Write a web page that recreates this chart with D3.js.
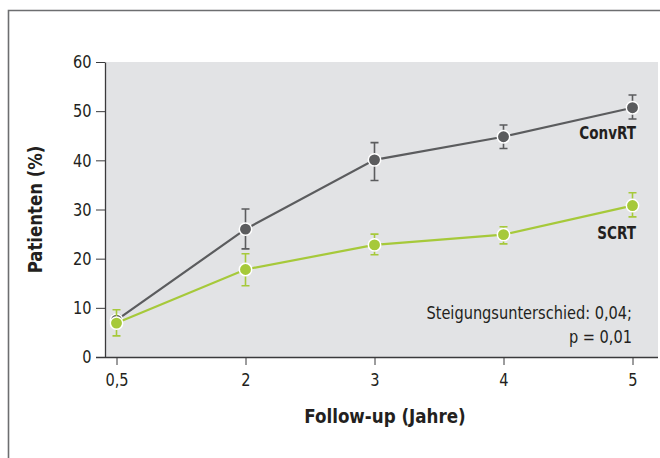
<!DOCTYPE html>
<html>
<head>
<meta charset="utf-8">
<script src="https://cdn.jsdelivr.net/npm/d3@7/dist/d3.min.js"></script>
<style>
  body { margin: 0; background: #fff; }
  svg { display: block; font-family: "Liberation Sans Narrow", "DejaVu Sans Condensed", "Open Sans", sans-serif; }
</style>
</head>
<body>
<svg id="chart" width="660" height="458"></svg>
<script>
// data
var years = ["0,5", "2", "3", "4", "5"];
var convValues = [7.5, 26.0, 40.1, 44.8, 50.7];
var convLow = [6.5, 22.0, 35.9, 42.4, 48.4];
var convHigh = [8.5, 30.1, 43.6, 47.2, 53.3];
var scrtValues = [6.9, 17.8, 22.8, 24.9, 30.8];
var scrtLow = [4.3, 14.5, 20.8, 23.0, 28.5];
var scrtHigh = [9.6, 21.0, 25.0, 26.5, 33.4];
var yTicks = [0, 10, 20, 30, 40, 50, 60];

var series = [
  {name: "ConvRT", color: "#5b5c5e", values: convValues, lo: convLow, hi: convHigh, labelY: 44.4},
  {name: "SCRT", color: "#a6c93a", values: scrtValues, lo: scrtLow, hi: scrtHigh, labelY: 24.1}
];

var svg = d3.select("#chart");
var ink = "#231f20";

// narrow text a bit, the original uses a condensed face
function label(px, py, str, size, bold, anchor, sx) {
  return svg.append("text")
    .attr("transform", "translate(" + px + "," + py + ") scale(" + sx + ",1)")
    .attr("text-anchor", anchor)
    .attr("font-weight", bold ? "bold" : "normal")
    .attr("font-size", size)
    .attr("fill", ink)
    .text(str);
}

// outer frame (runs off the right and bottom edge)
svg.append("path")
  .attr("d", "M8.5,470 L8.5,10.5 L680,10.5")
  .attr("fill", "none")
  .attr("stroke", "#6d6e70")
  .attr("stroke-width", 1.6);

var plotL = 105, plotR = 658, plotT = 62, plotB = 357;

var x = d3.scalePoint().domain(years).range([116.5, 632.5]);
var y = d3.scaleLinear().domain([0, 60]).range([plotB, plotT]);

// plot background
svg.append("rect")
  .attr("x", plotL).attr("y", plotT)
  .attr("width", plotR - plotL).attr("height", plotB - plotT)
  .attr("fill", "#e2e3e5");

// y axis
var yAxis = svg.append("g")
  .attr("transform", "translate(" + plotL + ",0)")
  .call(d3.axisLeft(y).tickValues(yTicks).tickSize(9).tickPadding(4).tickSizeOuter(0));
yAxis.select(".domain").attr("stroke", "#3a3a3c").attr("stroke-width", 1.3);
yAxis.selectAll(".tick line").attr("stroke", "#3a3a3c");

// x axis
var xAxis = svg.append("g")
  .attr("transform", "translate(0," + plotB + ")")
  .call(d3.axisBottom(x).tickSize(8).tickPadding(8).tickSizeOuter(0));
xAxis.select(".domain").attr("d", "M" + (plotL - 9) + ",0.5H" + plotR).attr("stroke", "#3a3a3c").attr("stroke-width", 1.3);
xAxis.selectAll(".tick line").attr("stroke", "#3a3a3c");

svg.selectAll(".tick text")
  .attr("fill", ink)
  .style("font-size", "18px")
  .style("font-family", "\"Liberation Sans Narrow\", \"DejaVu Sans Condensed\", sans-serif");
yAxis.selectAll(".tick text").attr("x", -15).attr("transform", "scale(0.9,1)");
xAxis.selectAll(".tick text").attr("transform", "scale(0.9,1)");

// axis titles
svg.append("text")
  .attr("transform", "translate(42," + ((plotT + plotB) / 2) + ") rotate(-90) scale(0.92,1)")
  .attr("text-anchor", "middle")
  .attr("font-weight", "bold")
  .attr("font-size", 20)
  .attr("fill", ink)
  .text("Patienten (%)");

label(385, 423, "Follow-up (Jahre)", 20, true, "middle", 0.93);

var line = d3.line()
  .x(function(d, i) { return x(years[i]); })
  .y(function(d) { return y(d); });

series.forEach(function(s) {
  var g = svg.append("g");
  g.append("path")
    .attr("d", line(s.values))
    .attr("fill", "none")
    .attr("stroke", s.color)
    .attr("stroke-width", 2.2);

  // error bars
  years.forEach(function(yr, i) {
    var cx = x(yr);
    g.append("path")
      .attr("d", "M" + (cx - 4) + "," + y(s.hi[i]) + "H" + (cx + 4) +
                 "M" + cx + "," + y(s.hi[i]) + "V" + y(s.lo[i]) +
                 "M" + (cx - 4) + "," + y(s.lo[i]) + "H" + (cx + 4))
      .attr("fill", "none")
      .attr("stroke", s.color)
      .attr("stroke-width", 1.6);
  });

  g.selectAll("circle")
    .data(s.values)
    .join("circle")
    .attr("cx", function(d, i) { return x(years[i]); })
    .attr("cy", function(d) { return y(d); })
    .attr("r", 6.2)
    .attr("fill", s.color)
    .attr("stroke", "#fff")
    .attr("stroke-width", 1.5);

  label(636, y(s.labelY), s.name, 17.5, true, "end", 0.86);
});

// note
label(632, 318.5, "Steigungsunterschied: 0,04;", 18, false, "end", 0.9);
label(632, 342.5, "p = 0,01", 18, false, "end", 0.9);
</script>
</body>
</html>
